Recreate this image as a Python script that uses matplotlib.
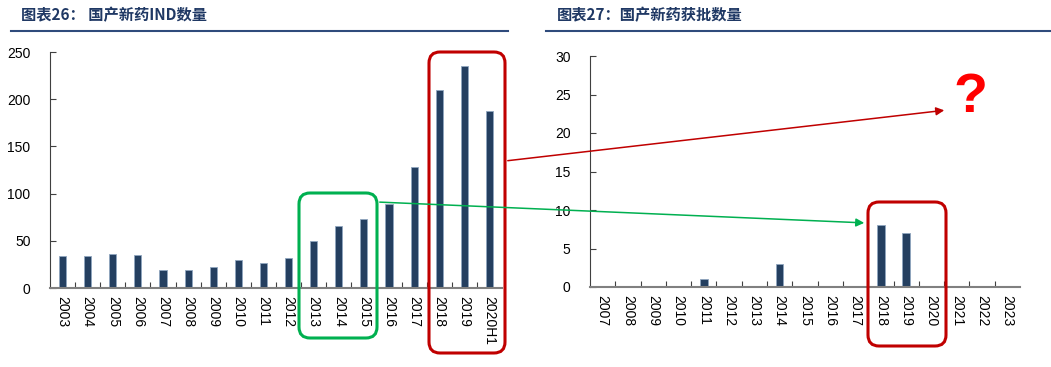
import matplotlib.pyplot as plt
from matplotlib.patches import FancyBboxPatch

plt.rcParams['font.family'] = ['Liberation Sans', 'Noto Sans CJK SC', 'DejaVu Sans']

# 图表26 数据
ind_years = ['2003', '2004', '2005', '2006', '2007', '2008', '2009', '2010', '2011',
             '2012', '2013', '2014', '2015', '2016', '2017', '2018', '2019', '2020H1']
ind_counts = [34, 34, 36, 35, 19, 19, 22, 30, 27, 32, 50, 66, 73, 89, 128, 210, 235, 188]

# 图表27 数据
appr_years = ['2007', '2008', '2009', '2010', '2011', '2012', '2013', '2014', '2015',
              '2016', '2017', '2018', '2019', '2020', '2021', '2022', '2023']
appr_counts = [0, 0, 0, 0, 1, 0, 0, 3, 0, 0, 0, 8, 7, 0, 0, 0, 0]

bar_color = '#243F60'
edge_color = '#8FA6BF'
title_color = '#1F3864'
W, H = 1051, 367

fig = plt.figure(figsize=(W / 100, H / 100), dpi=100)


def px_axes(x0, y0, x1, y1):
    return fig.add_axes([x0 / W, 1 - y1 / H, (x1 - x0) / W, (y1 - y0) / H])


def style_axes(ax, labels, ymax, step, fs):
    ax.set_xlim(-0.5, len(labels) - 0.5)
    ax.set_ylim(0, ymax)
    ax.set_yticks(range(0, ymax + 1, step))
    ax.set_xticks([i + 0.5 for i in range(len(labels) - 1)], minor=False)
    ax.set_xticklabels([])
    ax.set_xticks(range(len(labels)), minor=True)
    ax.set_xticklabels(labels, minor=True, rotation=-90, fontsize=fs)
    ax.tick_params(axis='x', which='minor', length=0, pad=6)
    ax.tick_params(axis='x', which='major', direction='in', length=4, color='#404040')
    ax.tick_params(axis='y', direction='in', length=4, labelsize=fs, pad=14, color='#404040')
    for s in ['top', 'right']:
        ax.spines[s].set_visible(False)
    ax.spines['left'].set_color('#404040')
    ax.spines['bottom'].set_color('#808080')
    ax.spines['bottom'].set_linewidth(1.5)


ax1 = px_axes(50, 52, 502, 288)
ax1.bar(range(len(ind_years)), ind_counts, width=0.28, color=bar_color,
        edgecolor=edge_color, linewidth=0.6)
style_axes(ax1, ind_years, 250, 50, 10)

ax2 = px_axes(590, 56, 1020, 287)
ax2.bar(range(len(appr_years)), appr_counts, width=0.3, color=bar_color,
        edgecolor=edge_color, linewidth=0.6)
style_axes(ax2, appr_years, 30, 5, 10)

# 标题与分隔线
fig.text(21 / W, 1 - 15 / H, '图表26： 国产新药IND数量', fontsize=11, fontweight='bold',
         color=title_color, va='center', family=['Noto Sans CJK SC'])
fig.text(557 / W, 1 - 15 / H, '图表27：国产新药获批数量', fontsize=11, fontweight='bold',
         color=title_color, va='center', family=['Noto Sans CJK SC'])

ov = fig.add_axes([0, 0, 1, 1], facecolor='none')
ov.set_xlim(0, W)
ov.set_ylim(H, 0)
ov.axis('off')

ov.plot([11, 508], [31, 31], color='#2F4B7C', lw=1.5)
ov.plot([546, 1051], [31, 31], color='#2F4B7C', lw=1.5)

# 标注框
for (x0, y0, x1, y1, c) in [(299, 193, 377, 338, '#00B050'),
                            (429, 52, 505, 353, '#C00000'),
                            (868, 202, 946, 346, '#C00000')]:
    ov.add_patch(FancyBboxPatch((x0 + 11, y0 + 11), x1 - x0 - 22, y1 - y0 - 22,
                                boxstyle='round,pad=11', fill=False, edgecolor=c, lw=2.2))

ov.annotate('', xy=(947, 110), xytext=(505, 161),
            arrowprops=dict(arrowstyle='-|>', color='#C00000', lw=1.1, mutation_scale=12))
ov.annotate('', xy=(867, 223), xytext=(377, 202),
            arrowprops=dict(arrowstyle='-|>', color='#00B050', lw=1.1, mutation_scale=12))
ov.text(970, 98, '?', fontsize=40, fontweight='bold', color='#FF0000',
        ha='center', va='center', family=['Liberation Sans'])

fig.savefig('out.png', dpi=100)
